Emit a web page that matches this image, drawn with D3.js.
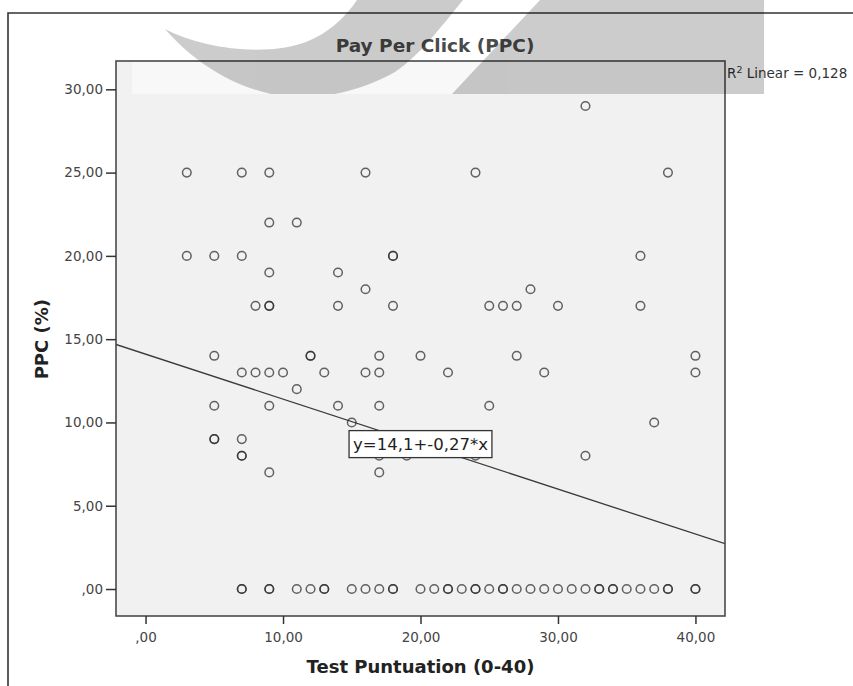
<!DOCTYPE html>
<html><head><meta charset="utf-8">
<script src="https://cdn.jsdelivr.net/npm/d3@7"></script>
<style>
body{margin:0;background:#fff}
svg{display:block}
text{font-family:"DejaVu Sans",sans-serif}
</style>
</head><body><svg id="c" width="853" height="686"></svg>
<script>
const chartTitle = "Pay Per Click (PPC)";
const xTitle = "Test Puntuation (0-40)";
const yTitle = "PPC (%)";
const xTicks = [0, 10, 20, 30, 40];
const xTickLabels = [",00", "10,00", "20,00", "30,00", "40,00"];
const yTicks = [0, 5, 10, 15, 20, 25, 30];
const yTickLabels = [",00", "5,00", "10,00", "15,00", "20,00", "25,00", "30,00"];

// observed points (test score, PPC %); repeated pairs are overlapping cases
const testScore = [
  32,
  3, 7, 9, 16, 24, 38,
  9, 11,
  3, 5, 7, 18, 18, 36,
  9, 14,
  16, 28,
  8, 9, 9, 14, 18, 25, 26, 27, 30, 36,
  5, 12, 12, 17, 20, 27, 40,
  7, 8, 9, 10, 13, 16, 17, 22, 29, 40,
  11,
  5, 9, 14, 17, 25,
  15, 37,
  5, 5, 7,
  7, 7, 17, 19, 24, 32,
  9, 17,
  7, 7, 9, 9, 11, 12, 13, 13, 15, 16, 17, 18, 18, 20, 21, 22, 22, 23, 24, 24,
  25, 26, 26, 27, 28, 29, 30, 31, 32, 33, 33, 34, 34, 35, 36, 37, 38, 38, 40, 40
];
const ppc = [
  29,
  25, 25, 25, 25, 25, 25,
  22, 22,
  20, 20, 20, 20, 20, 20,
  19, 19,
  18, 18,
  17, 17, 17, 17, 17, 17, 17, 17, 17, 17,
  14, 14, 14, 14, 14, 14, 14,
  13, 13, 13, 13, 13, 13, 13, 13, 13, 13,
  12,
  11, 11, 11, 11, 11,
  10, 10,
  9, 9, 9,
  8, 8, 8, 8, 8, 8,
  7, 7,
  0, 0, 0, 0, 0, 0, 0, 0, 0, 0, 0, 0, 0, 0, 0, 0, 0, 0, 0, 0,
  0, 0, 0, 0, 0, 0, 0, 0, 0, 0, 0, 0, 0, 0, 0, 0, 0, 0, 0, 0
];
const fitIntercept = 14.1;
const fitSlope = -0.27;
const fitLabel = "y=14,1+-0,27*x";
const fitLabelAt = 20;
const r2Value = "0,128";

const svg = d3.select("#c");
const W = 853, H = 686;
const plot = {left: 116, right: 725, top: 61, bottom: 616};

const x = d3.scaleLinear().domain([-2.15, 42.15]).range([plot.left, plot.right]);
const y = d3.scaleLinear().domain([-1.62, 31.7]).range([plot.bottom, plot.top]);

svg.append("rect").attr("width", W).attr("height", H).attr("fill", "#fff");

// outer frame
svg.append("path").attr("d", `M8,${H} L8,13 L${W},13`)
  .attr("fill", "none").attr("stroke", "#333").attr("stroke-width", 1.6);

// plot background
svg.append("rect").attr("x", plot.left).attr("y", plot.top)
  .attr("width", plot.right - plot.left).attr("height", plot.bottom - plot.top)
  .attr("fill", "#f0f1f0");

// light band of the watermark
svg.append("rect").attr("x", 132).attr("y", plot.top + 1).attr("width", 632).attr("height", 94 - plot.top - 1)
  .attr("fill", "#fff").attr("opacity", 0.5);

svg.append("clipPath").attr("id", "pc").append("rect")
  .attr("x", plot.left).attr("y", plot.top)
  .attr("width", plot.right - plot.left).attr("height", plot.bottom - plot.top);

// regression line
const [x0, x1] = x.domain();
svg.append("line").attr("clip-path", "url(#pc)")
  .attr("x1", x(x0)).attr("y1", y(fitIntercept + fitSlope * x0))
  .attr("x2", x(x1)).attr("y2", y(fitIntercept + fitSlope * x1))
  .attr("stroke", "#3a3a3a").attr("stroke-width", 1.3);

// points
const pts = testScore.map((v, i) => ({x: v, y: ppc[i]}));
svg.append("g").selectAll("circle").data(pts).join("circle")
  .attr("cx", d => x(d.x)).attr("cy", d => y(d.y)).attr("r", 4.3)
  .attr("fill", "none").attr("stroke", "#2a2a2a").attr("stroke-opacity", 0.72)
  .attr("stroke-width", 1.5);

// fit label
const lg = svg.append("g").attr("transform", `translate(${x(fitLabelAt)},${y(fitIntercept + fitSlope * fitLabelAt)})`);
const lbox = lg.append("rect").attr("fill", "#fff").attr("stroke", "#333").attr("stroke-width", 1.3);
const lt = lg.append("text").attr("text-anchor", "middle").attr("dy", "0.36em")
  .attr("font-size", 16.5).attr("fill", "#222").text(fitLabel);
const tw = lt.node().getComputedTextLength();
lbox.attr("x", -tw / 2 - 4).attr("y", -13.5).attr("width", tw + 8).attr("height", 27);

// plot border
svg.append("rect").attr("x", plot.left).attr("y", plot.top)
  .attr("width", plot.right - plot.left).attr("height", plot.bottom - plot.top)
  .attr("fill", "none").attr("stroke", "#4a4a4a").attr("stroke-width", 1.6);

// axes
const yAxis = d3.axisLeft(y).tickValues(yTicks).tickFormat((d, i) => yTickLabels[i])
  .tickSize(10).tickPadding(3);
const gy = svg.append("g").attr("transform", `translate(${plot.left},0)`).call(yAxis);
const xAxis = d3.axisBottom(x).tickValues(xTicks).tickFormat((d, i) => xTickLabels[i])
  .tickSize(8).tickPadding(8);
const gx = svg.append("g").attr("transform", `translate(0,${plot.bottom})`).call(xAxis);
[gx, gy].forEach(g => {
  g.select(".domain").remove();
  g.selectAll(".tick line").attr("stroke", "#333").attr("stroke-width", 1.5);
  g.selectAll(".tick text").attr("font-family", "DejaVu Sans").attr("font-size", 13.5).attr("fill", "#444");
});

// titles
svg.append("text").attr("x", 435).attr("y", 52).attr("text-anchor", "middle")
  .attr("font-size", 18.5).attr("font-weight", "bold").attr("fill", "#4a4a4a").text(chartTitle);
svg.append("text").attr("x", (plot.left + plot.right) / 2).attr("y", 673).attr("text-anchor", "middle")
  .attr("font-size", 18).attr("font-weight", "bold").attr("fill", "#222").text(xTitle);
svg.append("text").attr("transform", `translate(48,${y(15)}) rotate(-90)`)
  .attr("text-anchor", "middle").attr("font-size", 18).attr("font-weight", "bold").attr("fill", "#222").text(yTitle);

// R² label
const r2 = svg.append("text").attr("x", plot.right + 2).attr("y", 78).attr("font-size", 13.5).attr("fill", "#333");
r2.append("tspan").text("R");
r2.append("tspan").attr("font-size", 9.5).attr("dy", -5).text("2");
r2.append("tspan").attr("dy", 5).text(" Linear = " + r2Value);

// watermark overlay
svg.append("clipPath").attr("id", "wmc").append("rect").attr("x", 0).attr("y", 0).attr("width", W).attr("height", 94);
const wm = svg.append("g").attr("fill", "#000").attr("opacity", 0.2).attr("clip-path", "url(#wmc)");
wm.append("path").attr("d",
  "M165,29 C200,48 262,56 300,44 C326,36 345,18 357,0 L463,0 C440,28 420,55 395,72 C360,92 320,99 290,97 C240,92 195,64 165,29 Z");
wm.append("path").attr("d", "M540,0 L764,0 L764,94 L452,94 Z");
</script>
</body></html>
